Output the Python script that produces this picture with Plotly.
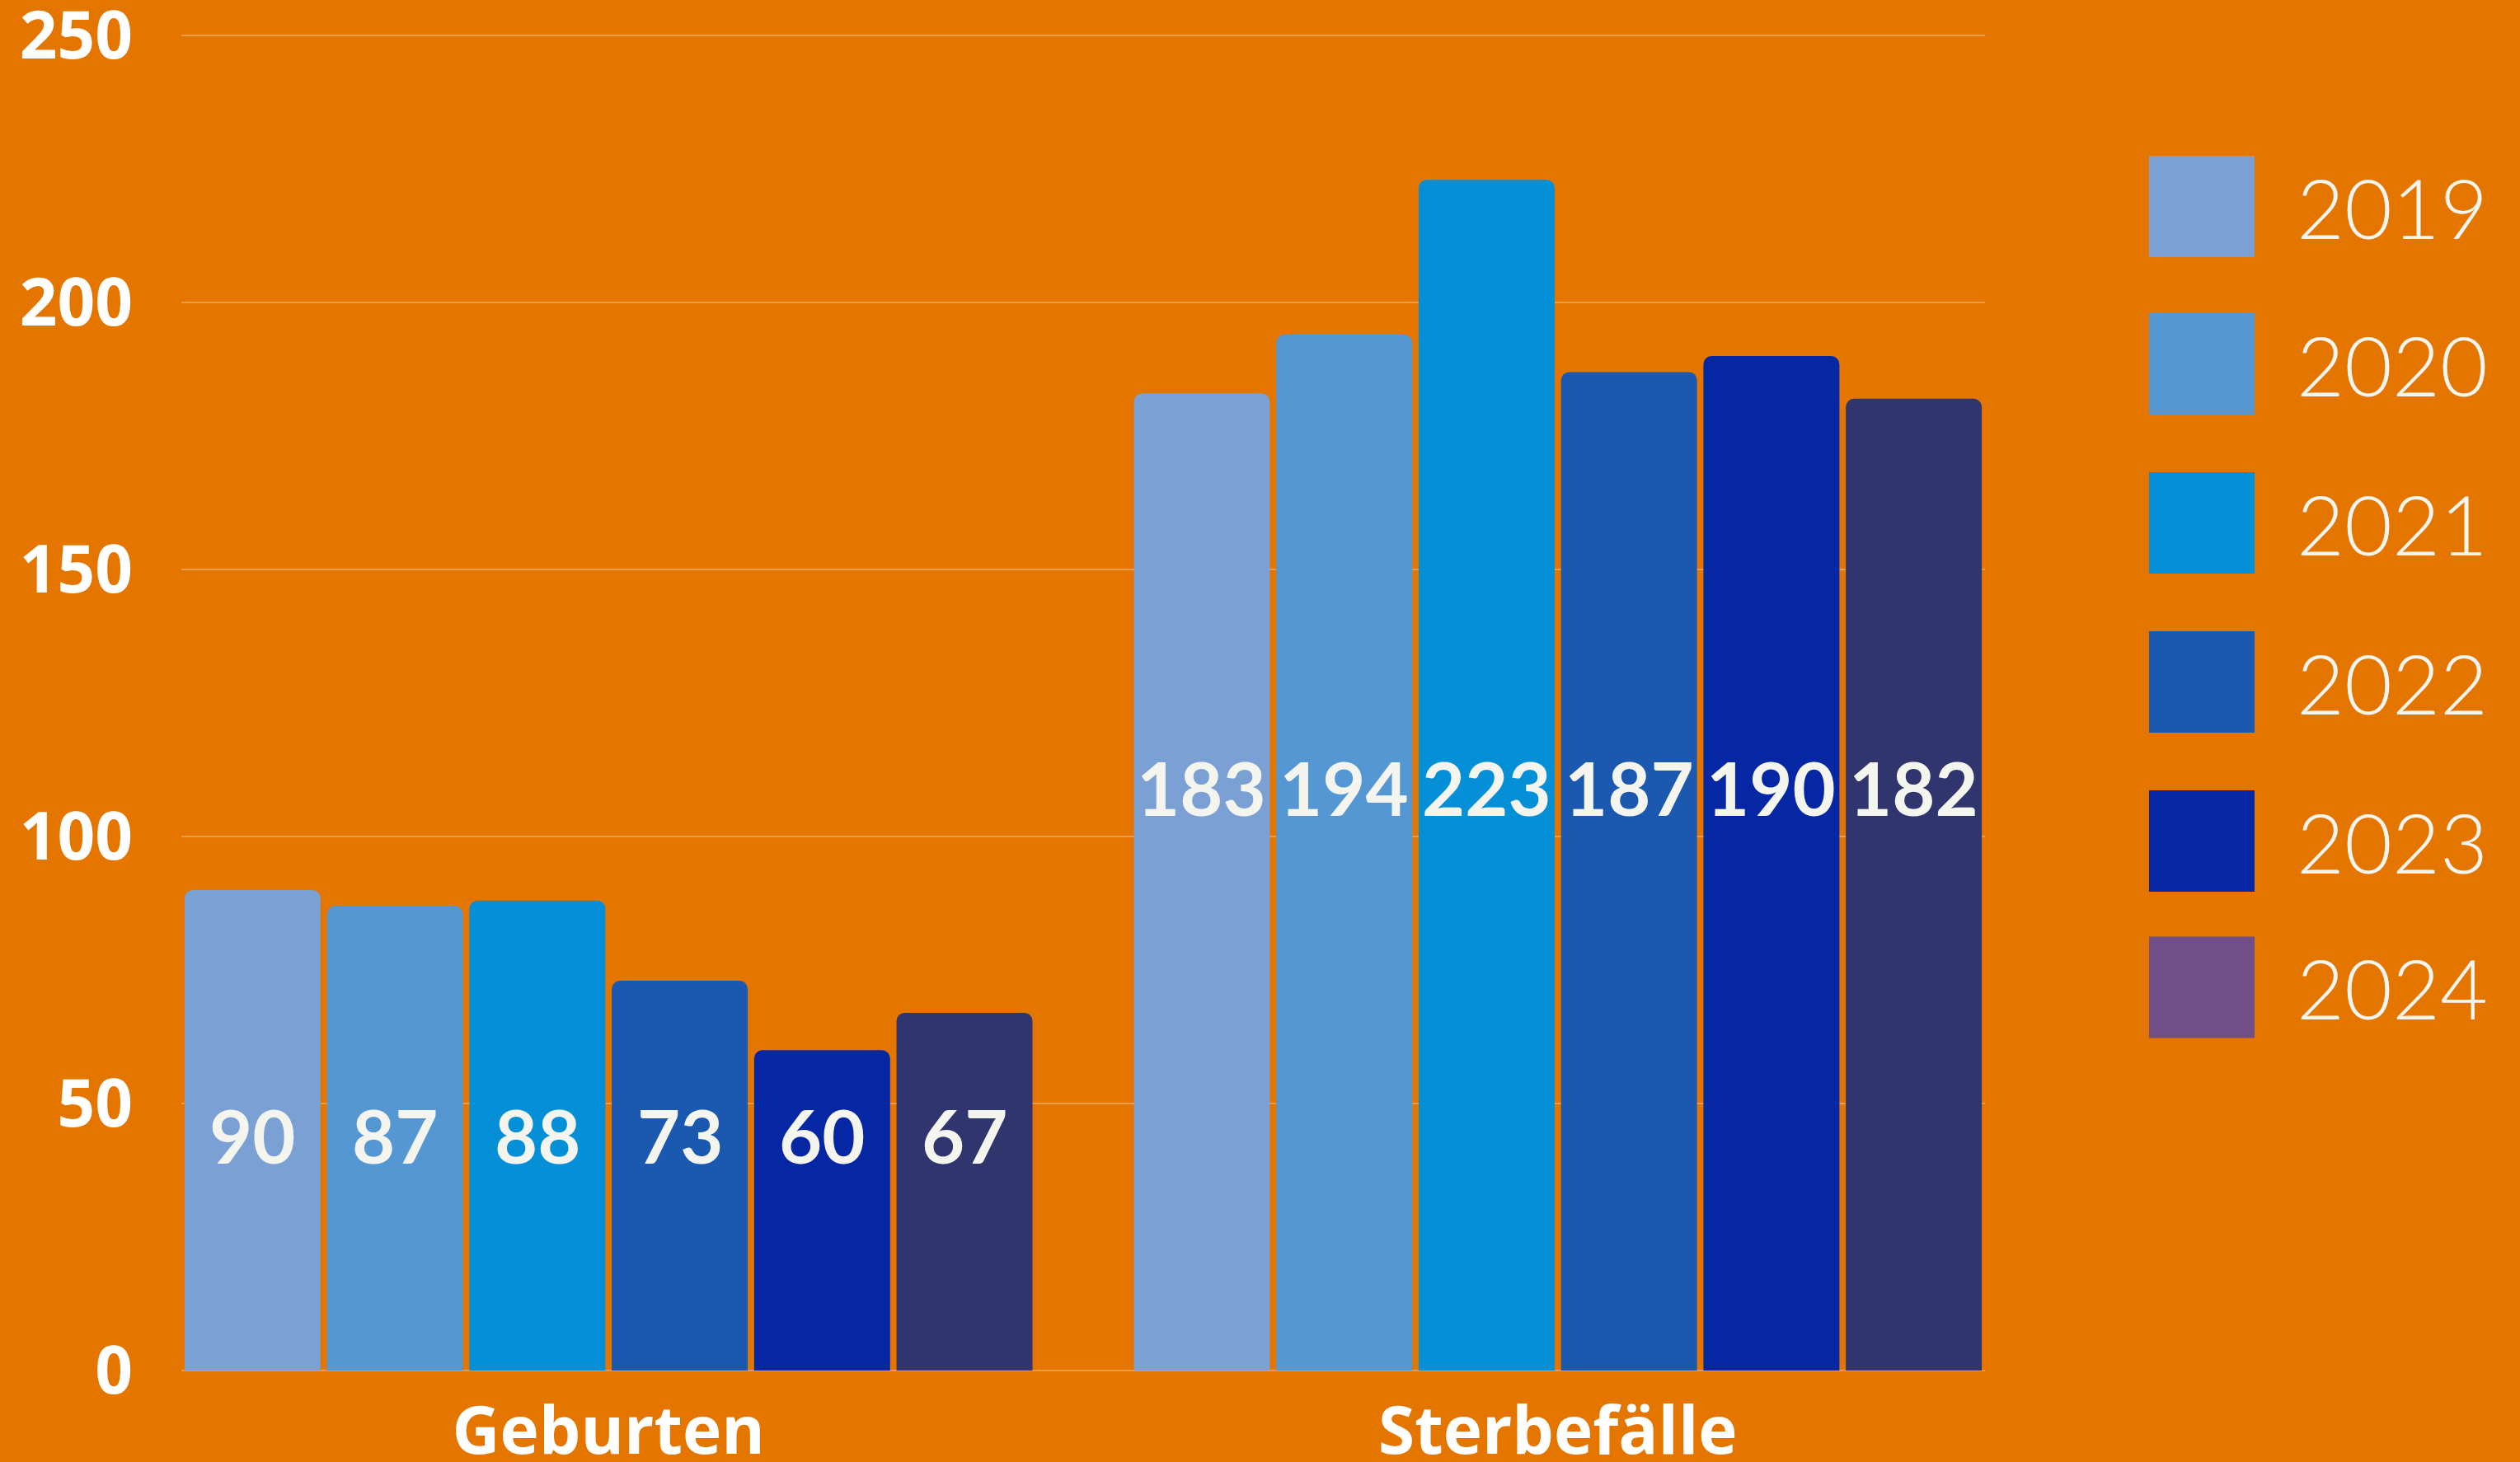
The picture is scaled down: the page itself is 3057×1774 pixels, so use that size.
import plotly.graph_objects as go

# ---------------- data ----------------
categories = ["Geburten", "Sterbefälle"]
years = ["2019", "2020", "2021", "2022", "2023", "2024"]
v2019 = [90, 183]
v2020 = [87, 194]
v2021 = [88, 223]
v2022 = [73, 187]
v2023 = [60, 190]
v2024 = [67, 182]
series = [v2019, v2020, v2021, v2022, v2023, v2024]
y_ticks = [0, 50, 100, 150, 200, 250]

# ---------------- styles ----------------
bar_colors = ["#7BA0D3", "#5597D3", "#048FD6", "#1B59B0", "#0527A4", "#30356D"]
legend_colors = ["#7BA0D3", "#5597D3", "#048FD6", "#1B59B0", "#0527A4", "#714E86"]
BG = "#E47600"
GRID = "rgba(255,255,255,0.28)"
TEXT = "#F5F5F0"

W, H = 3057, 1774
L, R, T, B = 220, 649, 40, 111
YMAX = 250.5
BARGAP = 0.1
NS = len(years)

fig = go.Figure()
for year, vals, col in zip(years, series, bar_colors):
    fig.add_trace(go.Bar(
        x=categories, y=vals, name=year,
        marker=dict(color=col, cornerradius=10, line=dict(width=0)),
        showlegend=False,
    ))

annotations = []
# value labels, placed at a common height per group
for ci, cat in enumerate(categories):
    gmax = max(s[ci] for s in series)
    for j, vals in enumerate(series):
        annotations.append(dict(
            x=ci + (j - (NS - 1) / 2) * (1 - BARGAP) / NS,
            y=0.49 * gmax, xref="x", yref="y",
            text=str(vals[ci]), showarrow=False,
            xanchor="center", yanchor="middle",
            font=dict(family="Lato", size=90, color=TEXT, weight="bold"),
        ))

# custom legend (large swatches)
pw = W - L - R
ph = H - T - B
def px2x(p):
    return (p - L) / pw
def py2y(p):
    return (H - B - p) / ph

row_centers = [250.5, 441.6, 634.6, 827.6, 1020.6, 1198.0]
shapes = []
for year, col, cy in zip(years, legend_colors, row_centers):
    shapes.append(dict(
        type="rect", xref="paper", yref="paper",
        x0=px2x(2607), x1=px2x(2735), y0=py2y(cy + 61.5), y1=py2y(cy - 61.5),
        fillcolor=col, line=dict(width=0), layer="above",
    ))
    annotations.append(dict(
        x=px2x(2902), y=py2y(cy), xref="paper", yref="paper",
        text=year, showarrow=False, xanchor="center", yanchor="middle",
        font=dict(family="Lato", size=100, color=TEXT, weight=300),
    ))

fig.update_layout(
    width=W, height=H,
    paper_bgcolor=BG, plot_bgcolor=BG,
    margin=dict(l=L, r=R, t=T, b=B, pad=0, autoexpand=False),
    barmode="group", bargap=BARGAP, bargroupgap=0.045,
    showlegend=False,
    xaxis=dict(
        range=[-0.45, 1.45], showgrid=False, zeroline=False, showline=False,
        ticks="", ticklabelstandoff=20, automargin=False, ticklabeloverflow="allow",
        tickfont=dict(family="Open Sans", size=80, color="white", weight="bold"),
    ),
    yaxis=dict(
        range=[0, YMAX], tickvals=y_ticks, showgrid=True, gridcolor=GRID, gridwidth=2,
        zeroline=True, zerolinecolor=GRID, zerolinewidth=2, showline=False,
        ticks="", ticklabelstandoff=58, automargin=False, ticklabeloverflow="allow",
        tickfont=dict(family="Open Sans", size=80, color="white", weight="bold"),
    ),
    annotations=annotations,
    shapes=shapes,
)

fig.write_html(
    "out.html",
    config={"displayModeBar": False},
    post_script="document.body.style.margin='0';document.body.style.background='%s';" % BG,
)
